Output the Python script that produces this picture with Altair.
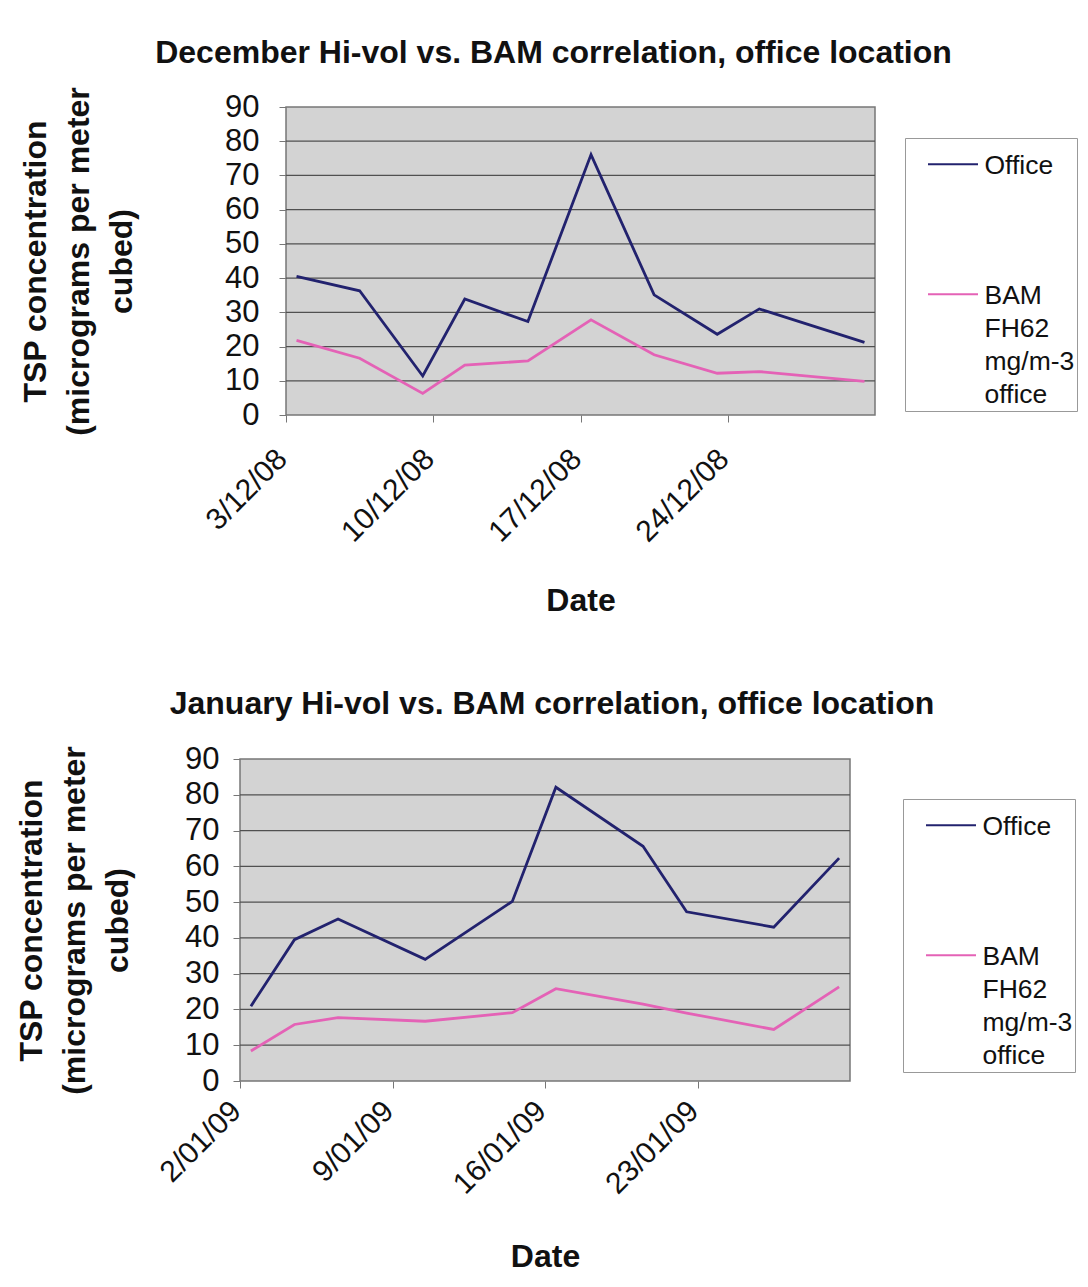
import altair as alt
import pandas as pd

# ---------------- data ----------------
SERIES = ["Office", "BAM FH62 mg/m-3 office"]
COLORS = ["#22226E", "#E462B6"]

dec_dates = ["2008-12-03", "2008-12-06", "2008-12-09", "2008-12-11", "2008-12-14",
             "2008-12-17", "2008-12-20", "2008-12-23", "2008-12-25", "2008-12-30"]
dec_office = [40.5, 36.3, 11.4, 33.9, 27.3, 76.1, 35.1, 23.6, 31.0, 21.2]
dec_bam = [21.8, 16.6, 6.3, 14.6, 15.8, 27.8, 17.6, 12.2, 12.7, 9.8]
dec_span = ["2008-12-03", "2008-12-31"]
dec_ticks = [3, 10, 17, 24]

jan_dates = ["2009-01-02", "2009-01-04", "2009-01-06", "2009-01-10", "2009-01-14",
             "2009-01-16", "2009-01-20", "2009-01-22", "2009-01-26", "2009-01-29"]
jan_office = [20.9, 39.5, 45.3, 34.0, 50.2, 82.1, 65.6, 47.3, 43.0, 62.3]
jan_bam = [8.4, 15.8, 17.7, 16.7, 19.1, 25.8, 21.5, 19.0, 14.4, 26.3]
jan_span = ["2009-01-02", "2009-01-30"]
jan_ticks = [2, 9, 16, 23]

y_ticks = [0, 10, 20, 30, 40, 50, 60, 70, 80, 90]
y_grid = [10, 20, 30, 40, 50, 60, 70, 80]
y_span = [0, 90]

Y_TITLE = ["TSP concentration", "(micrograms per meter", "cubed)"]
FONT = "Liberation Sans"


def frame(dates, office, bam):
    rows = []
    for d, o, b in zip(dates, office, bam):
        rows.append({"date": d + "T12:00:00Z", "series": SERIES[0], "value": o})
        rows.append({"date": d + "T12:00:00Z", "series": SERIES[1], "value": b})
    return pd.DataFrame(rows)


def dt(s):
    y, m, d = (int(p) for p in s.split("-"))
    return alt.DateTime(year=y, month=m, date=d, utc=True)


def panel(df, span, ticks, title, w, h, xrange, yoff,
          ytp, ylp, xlp, xtp, lx, ly, toff, tdx):
    y0, m0, _ = (int(p) for p in span[0].split("-"))
    scale_kw = dict(type="utc", domain=[dt(span[0]), dt(span[1])])
    if xrange is not None:
        scale_kw["range"] = xrange
    xs = alt.Scale(**scale_kw)
    ys = alt.Scale(domain=y_span, nice=False)
    tv = [alt.DateTime(year=y0, month=m0, date=d, utc=True) for d in ticks]
    xa = alt.Axis(values=tv, format="%-d/%m/%y", labelAngle=-45,
                  labelAlign="right", labelBaseline="middle",
                  labelFontSize=30, labelPadding=xlp, labelOffset=-4,
                  tickSize=7, tickColor="#777", domain=False, grid=False,
                  title="Date", titleFontSize=32, titleFontWeight="bold",
                  titlePadding=xtp, titleColor="#111", labelColor="#111")
    ya = alt.Axis(values=y_ticks, labelFontSize=31, labelPadding=ylp,
                  tickSize=7, tickColor="#777", domain=False, grid=False,
                  offset=yoff,
                  title=Y_TITLE, titleFontSize=32, titleFontWeight="bold",
                  titleLineHeight=43, titlePadding=ytp, titleColor="#111",
                  labelColor="#111")

    bgdf = pd.DataFrame({"x0": [span[0] + "T00:00:00Z"], "x1": [span[1] + "T00:00:00Z"],
                         "y0": [y_span[0]], "y1": [y_span[1]]})
    griddf = pd.DataFrame({"v": y_grid,
                           "x0": [span[0] + "T00:00:00Z"] * len(y_grid),
                           "x1": [span[1] + "T00:00:00Z"] * len(y_grid)})

    bg = alt.Chart(bgdf).mark_rect(fill="#D3D3D3", stroke="#777", strokeWidth=1.5).encode(
        x=alt.X("x0:T", scale=xs, axis=xa), x2=alt.X2("x1"),
        y=alt.Y("y0:Q", scale=ys, axis=ya), y2=alt.Y2("y1"))
    grid = alt.Chart(griddf).mark_rule(color="#505050", strokeWidth=1.2).encode(
        x=alt.X("x0:T", scale=xs, axis=xa), x2=alt.X2("x1"),
        y=alt.Y("v:Q", scale=ys, axis=ya))
    lines = alt.Chart(df).mark_line(strokeWidth=2.8).encode(
        x=alt.X("date:T", scale=xs, axis=xa),
        y=alt.Y("value:Q", scale=ys, axis=ya),
        color=alt.Color("series:N", scale=alt.Scale(domain=SERIES, range=COLORS),
                        legend=alt.Legend(
                            orient="none", legendX=lx, legendY=ly, title=None,
                            direction="vertical", symbolType="M1.55,2.2H11.55", symbolSize=100,
                            symbolStrokeWidth=2, labelFontSize=26.5, labelBaseline="top",
                            labelOffset=51, rowPadding=90, padding=2,
                            strokeColor="#999", labelColor="#111", labelLimit=300,
                            labelExpr="datum.label == 'Office' ? 'Office' : ['BAM', 'FH62', 'mg/m-3', 'office']")),
    )
    return alt.layer(bg, grid, lines).properties(
        width=w, height=h,
        title=alt.TitleParams(title, fontSize=32, fontWeight="bold", color="#111",
                              anchor="middle", offset=toff, dx=tdx),
    )


# top plot: 286..875 ; bottom plot: 240..850 (shared origin at 286)
top = panel(frame(dec_dates, dec_office, dec_bam), dec_span, dec_ticks,
            "December Hi-vol vs. BAM correlation, office location",
            589, 308, None, 0,
            86, 20, 32, 38, 619, 31, 17, -27)
bottom = panel(frame(jan_dates, jan_office, jan_bam), jan_span, jan_ticks,
               "January Hi-vol vs. BAM correlation, office location",
               564, 322, [-46, 564], 46,
               50, 14, 18, 42, 617, 40, 22, -16)

chart = alt.vconcat(top, bottom, spacing=70).resolve_scale(
    x="independent", y="independent", color="independent"
).resolve_legend(color="independent").properties(
    padding={"left": 15, "top": 36, "right": 0, "bottom": 0},
    background="white",
).configure(
    font=FONT, style={"guide-label": {"lineHeight": 33}}
).configure_view(
    stroke="transparent"
)

chart.save("out.html", embed_options={"renderer": "svg", "actions": False})
